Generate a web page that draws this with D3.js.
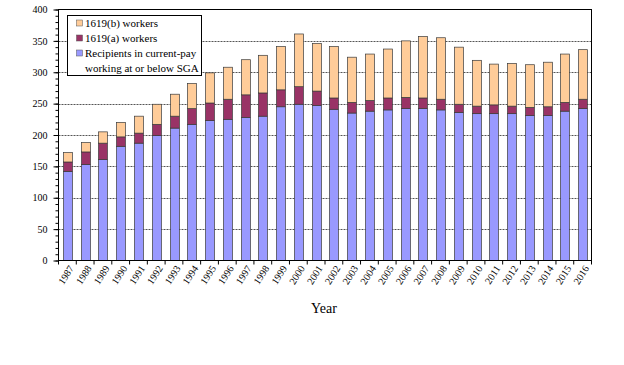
<!DOCTYPE html>
<html lang="en">
<head>
    <meta charset="UTF-8">
    <title>Workers chart</title>
    <script src="https://d3js.org/d3.v7.min.js"></script>
    <style>
        body { margin: 0; background: #fff; font-family: "Liberation Serif", "Times New Roman", serif; }
        .axis text { font-family: "Liberation Serif", "Times New Roman", serif; font-size: 10px; fill: #000; }
        .axis path, .axis line { stroke: #000; }
    </style>
</head>
<body>
    <svg id="chart" width="624" height="365"></svg>
    <script>
        // data
        const years = d3.range(1987, 2017).map(String);
        const recipients = [142, 153, 161, 182, 187, 199, 211, 217, 223, 225, 228, 230, 245, 249, 247, 241, 235, 238, 240, 242,
                            242, 240, 236, 234, 234, 234, 231, 231, 238, 242];
        const totalA = [157, 173, 187, 197, 203, 217, 230, 242, 251, 257, 264, 267, 272, 277, 270, 259, 252, 255, 259, 260,
                        259, 257, 249, 246, 248, 246, 244, 245, 252, 257];
        const totalAll = [172, 188, 205, 220, 230, 249, 265, 282, 299, 308, 320, 327, 341, 361, 346, 341, 324, 329, 337, 350,
                          357, 355, 340, 319, 313, 314, 312, 316, 329, 336];
        const yTicks = [0, 50, 100, 150, 200, 250, 300, 350, 400];

        const keys = ["recip", "a", "b"];
        const colors = { recip: "#9999ff", a: "#993366", b: "#ffcc99" };
        const legendItems = [
            { key: "b", lines: ["1619(b) workers"] },
            { key: "a", lines: ["1619(a) workers"] },
            { key: "recip", lines: ["Recipients in current-pay", "working at or below SGA"] }
        ];

        const rows = years.map((y, i) => ({
            year: y,
            recip: recipients[i],
            a: totalA[i] - recipients[i],
            b: totalAll[i] - totalA[i]
        }));

        const svg = d3.select("#chart");
        const plotL = 58.5, plotR = 591.5, plotT = 9.5, plotB = 260.5;

        const x = d3.scaleBand().domain(years).range([plotL, plotR]).paddingInner(0.5).paddingOuter(0.25);
        const y = d3.scaleLinear().domain([0, 400]).range([plotB, plotT]);

        // dashed gridlines
        svg.append("g")
            .selectAll("line")
            .data(yTicks.filter(d => d > 0 && d < 400))
            .join("line")
            .attr("x1", plotL).attr("x2", plotR)
            .attr("y1", d => Math.round(y(d)) + 0.5).attr("y2", d => Math.round(y(d)) + 0.5)
            .attr("stroke", "#555")
            .attr("stroke-dasharray", "2,1");

        // stacked bars
        const series = d3.stack().keys(keys)(rows);
        svg.append("g")
            .selectAll("g")
            .data(series)
            .join("g")
            .attr("fill", d => colors[d.key])
            .selectAll("rect")
            .data(d => d)
            .join("rect")
            .attr("x", d => Math.round(x(d.data.year)) + 0.5)
            .attr("y", d => y(d[1]))
            .attr("width", x.bandwidth())
            .attr("height", d => y(d[0]) - y(d[1]))
            .attr("stroke", "#3a3a3a")
            .attr("stroke-width", 0.7);

        // frame
        svg.append("rect")
            .attr("x", plotL).attr("y", plotT)
            .attr("width", plotR - plotL).attr("height", plotB - plotT)
            .attr("fill", "none").attr("stroke", "#000");

        // y axis: minor ticks every 10, longer major ticks every 50
        svg.append("g")
            .attr("class", "axis")
            .attr("transform", `translate(${plotL},0)`)
            .call(d3.axisLeft(y).tickValues(d3.range(0, 401, 10)).tickSize(3).tickFormat(""))
            .call(g => g.select(".domain").remove());
        svg.append("g")
            .attr("class", "axis")
            .attr("transform", `translate(${plotL},0)`)
            .call(d3.axisLeft(y).tickValues(yTicks).tickSize(5).tickPadding(6))
            .call(g => g.select(".domain").remove());

        // x axis: ticks at band boundaries, rotated labels
        const step = x.step();
        const xg = svg.append("g").attr("class", "axis");
        xg.selectAll("line")
            .data(d3.range(years.length + 1))
            .join("line")
            .attr("x1", i => plotL + i * step).attr("x2", i => plotL + i * step)
            .attr("y1", plotB).attr("y2", plotB + 4)
            .attr("stroke", "#000");
        xg.selectAll("text")
            .data(years)
            .join("text")
            .attr("transform", d => `translate(${x(d) + x.bandwidth() / 2 + 4},${plotB + 6}) rotate(-57)`)
            .attr("text-anchor", "end")
            .attr("dy", "0.35em")
            .text(d => d);

        svg.append("text")
            .attr("x", 324)
            .attr("y", 313)
            .attr("text-anchor", "middle")
            .style("font-size", "14px")
            .text("Year");

        // legend
        const lg = svg.append("g").attr("transform", "translate(67,15)");
        lg.append("rect")
            .attr("x", 0.5).attr("y", 0.5)
            .attr("width", 134).attr("height", 60)
            .attr("fill", "#fff").attr("stroke", "#000");
        let row = 0;
        legendItems.forEach(item => {
            lg.append("rect")
                .attr("x", 9.5).attr("y", 5 + row * 15)
                .attr("width", 6).attr("height", 6)
                .attr("fill", colors[item.key])
                .attr("stroke", "#555").attr("stroke-width", 0.5);
            item.lines.forEach(t => {
                lg.append("text")
                    .attr("x", 18)
                    .attr("y", 8 + row * 15)
                    .attr("dy", "0.35em")
                    .style("font-size", "11px")
                    .text(t);
                row++;
            });
        });
    </script>
</body>
</html>
